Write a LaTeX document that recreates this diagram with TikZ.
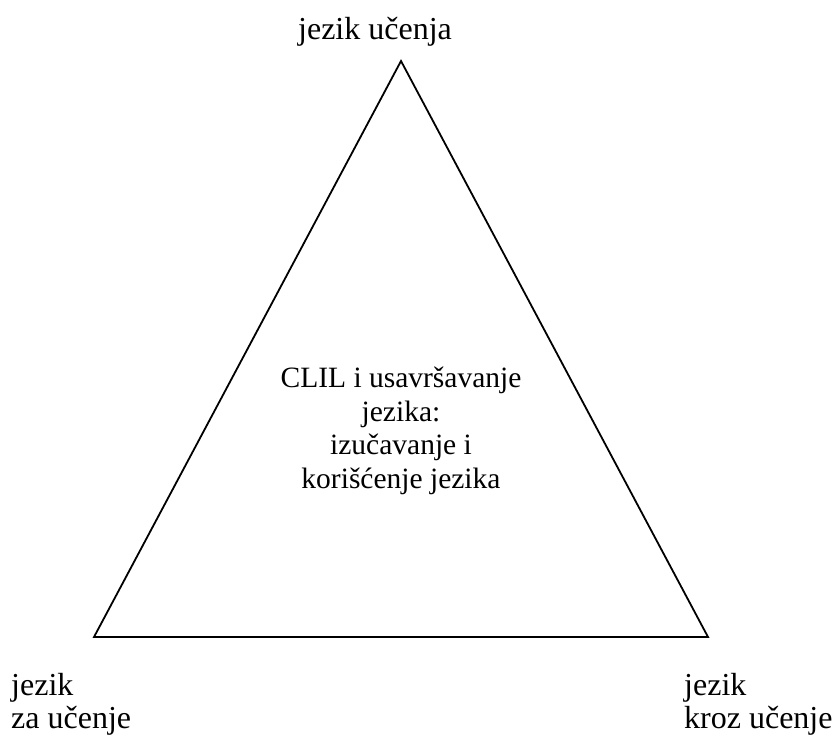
\documentclass[tikz,border=0pt]{standalone}
\usepackage{fontspec}
\setmainfont{Liberation Serif}
\begin{document}
\begin{tikzpicture}[x=1pt,y=-1pt,
  lbl/.style={inner sep=0pt,font=\fontsize{32}{32.5}\selectfont},
  midlbl/.style={inner sep=0pt,font=\fontsize{29.5}{33.5}\selectfont},
  tri/.style={line width=1.8pt,line join=miter}]
\useasboundingbox (0,0) rectangle (835,736);
\coordinate (A) at (401,61);
\coordinate (B) at (94,637);
\coordinate (C) at (708,637);
\draw[tri] (A) -- (B) -- (C) -- cycle;
\node[lbl,anchor=base] (top) at (375,39) {jezik učenja};
\node[midlbl,anchor=base,align=center] (mid) at (401,488) {CLIL i usavršavanje\\jezika:\\izučavanje i\\korišćenje jezika};
\node[lbl,anchor=base west,align=left] (bl) at (11,728) {jezik\\za učenje};
\node[lbl,anchor=base west,align=left] (br) at (684,728) {jezik\\kroz učenje};
\end{tikzpicture}
\end{document}
